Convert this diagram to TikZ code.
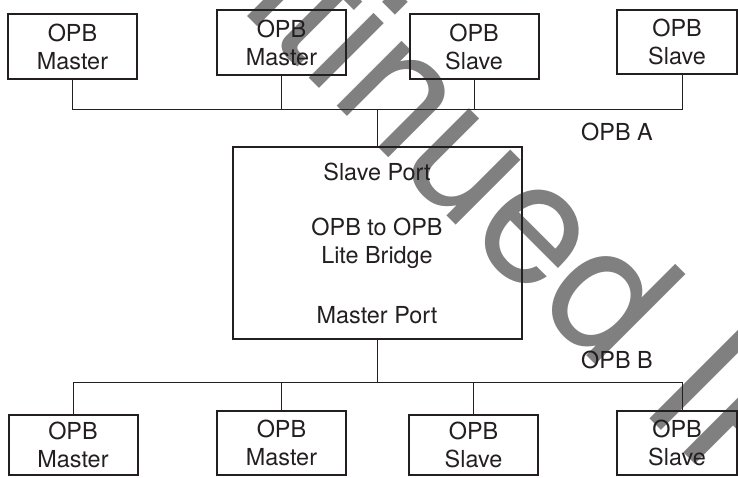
\documentclass[tikz,border=0pt]{standalone}
\usepackage{fontspec}
\setmainfont{TeX Gyre Heros}
\definecolor{ink}{HTML}{231F20}
\definecolor{wm}{HTML}{808080}
\tikzset{
  unit/.style={draw=ink, line width=2pt, minimum width=129pt, minimum height=65pt,
    inner sep=0pt, align=center, text=ink, font=\fontsize{23.4}{28}\selectfont},
  label/.style={text=ink, inner sep=0pt, font=\fontsize{23.4}{28}\selectfont},
  bus/.style={draw=ink, line width=1pt},
  bridgebox/.style={draw=ink, line width=2pt, minimum width=289pt, minimum height=192pt, inner sep=0pt},
  watermark/.style={text=wm, inner sep=0pt, font=\fontsize{175}{175}\selectfont}
}
\begin{document}
\begin{tikzpicture}[x=1pt,y=-1pt]
\useasboundingbox (0,0) rectangle (738,477);
\clip (0,0) rectangle (738,477);
% watermark
\node[watermark, rotate=-45, anchor=base west] (wmk) at (-112,-343) {Discontinued IP};
% top units
\node[unit] (b1) at (72.5,46.5) {OPB\\Master};
\node[unit] (b2) at (281.5,42.5) {OPB\\Master};
\node[unit] (b3) at (474,46.5) {OPB\\Slave};
\node[unit, minimum width=120pt, minimum height=64pt] (b4) at (677,42) {OPB\\Slave};
\coordinate (b4s) at (682,74);
% bridge
\node[bridgebox] (br) at (377.5,243) {};
\node[label] (sp) at (377,172) {Slave Port};
\node[label, align=center] (ob) at (377,243.5) {OPB to OPB\\Lite Bridge};
\node[label] (mp) at (377,315) {Master Port};
% bus labels
\node[label] (la) at (617,132) {OPB A};
\node[label] (lb) at (617,360) {OPB B};
% bottom units
\node[unit, minimum height=60pt] (b5) at (73,445) {OPB\\Master};
\node[unit, minimum height=64pt] (b6) at (281.5,443) {OPB\\Master};
\node[unit, minimum height=60pt] (b7) at (473.5,445) {OPB\\Slave};
\node[unit, minimum width=120pt, minimum height=64pt] (b8) at (677,443) {OPB\\Slave};
\coordinate (b8n) at (682,411);
% bus A
\coordinate (ea) at (682,109);
\draw[bus] (b1.south) |- (ea) -- (b4s);
\draw[bus] (b2.south) -- (b2.south |- ea);
\draw[bus] (b3.south) -- (b3.south |- ea);
\draw[bus] (br.north) -- (br.north |- ea);
% bus B
\coordinate (eb) at (682,382);
\draw[bus] (b5.north) |- (eb) -- (b8n);
\draw[bus] (b6.north) -- (b6.north |- eb);
\draw[bus] (b7.north) -- (b7.north |- eb);
\draw[bus] (br.south) -- (br.south |- eb);
\end{tikzpicture}
\end{document}
